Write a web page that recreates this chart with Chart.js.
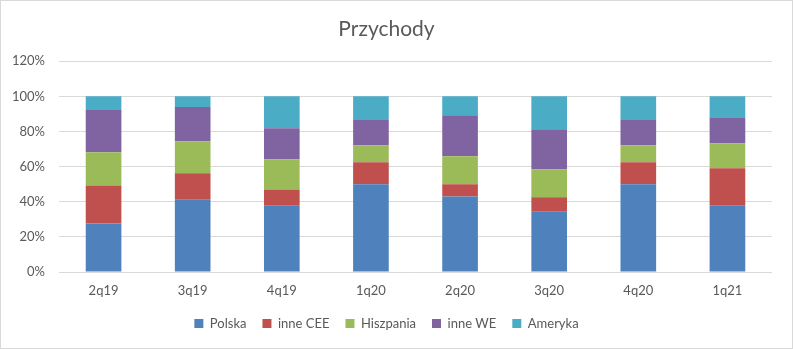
<!DOCTYPE html>
<html>
<head>
<meta charset="utf-8">
<script src="https://cdn.jsdelivr.net/npm/chart.js@4"></script>
<style>
html,body{margin:0;padding:0;background:#fff;}
#wrap{position:absolute;left:0;top:0;width:791px;height:347px;border:1px solid #d9d9d9;}
canvas{display:block;}
</style>
</head>
<body>
<div id="wrap"><canvas id="c" width="791" height="347"></canvas></div>
<script>
const categories = ['2q19','3q19','4q19','1q20','2q20','3q20','4q20','1q21'];
const polska    = [27.6, 41.1, 37.7, 49.9, 43.0, 34.3, 49.9, 37.7];
const inneCEE   = [21.7, 15.1,  9.3, 12.6,  6.9,  8.2, 12.6, 21.3];
const hiszpania = [18.9, 18.3, 17.2,  9.7, 16.0, 16.0,  9.7, 14.3];
const inneWE    = [24.0, 19.4, 17.7, 14.3, 23.4, 22.8, 14.3, 14.3];
const ameryka   = [ 7.8,  6.1, 18.1, 13.5, 10.7, 18.7, 13.5, 12.4];
const yTicks = [0, 20, 40, 60, 80, 100, 120];

const txt = '#595959';
const fam = 'Lato, "Open Sans", sans-serif';
const mk = (label, data, color) => ({label, data, backgroundColor: color, borderWidth: 0, categoryPercentage: 1, barPercentage: 0.4});

new Chart(document.getElementById('c'), {
  type: 'bar',
  data: {
    labels: categories,
    datasets: [
      mk('Polska', polska, '#4F81BD'),
      mk('inne CEE', inneCEE, '#C0504D'),
      mk('Hiszpania', hiszpania, '#9BBB59'),
      mk('inne WE', inneWE, '#8064A2'),
      mk('Ameryka', ameryka, '#4BACC6')
    ]
  },
  options: {
    responsive: false,
    animation: false,
    layout: {padding: {left: 0, right: 20, top: 0, bottom: 8}},
    plugins: {
      title: {display: true, text: 'Przychody', color: txt, font: {family: fam, size: 21, weight: 'normal'}, padding: {top: 16, bottom: 19}},
      legend: {position: 'bottom', labels: {color: txt, font: {family: fam, size: 13}, boxWidth: 9, boxHeight: 9, padding: 16}},
      tooltip: {enabled: false}
    },
    scales: {
      x: {
        stacked: true,
        grid: {display: false},
        border: {display: false},
        ticks: {color: txt, font: {family: fam, size: 13}, padding: 3},
        afterFit: s => { s.height = 29; }
      },
      y: {
        stacked: true,
        min: 0, max: 120,
        afterBuildTicks: s => { s.ticks = yTicks.map(v => ({value: v})); },
        grid: {color: '#d9d9d9', drawTicks: false},
        border: {display: false},
        ticks: {color: txt, font: {family: fam, size: 13}, padding: 14, callback: v => v + '%'},
        afterFit: s => { s.width = 58; }
      }
    }
  }
});
</script>
</body>
</html>
